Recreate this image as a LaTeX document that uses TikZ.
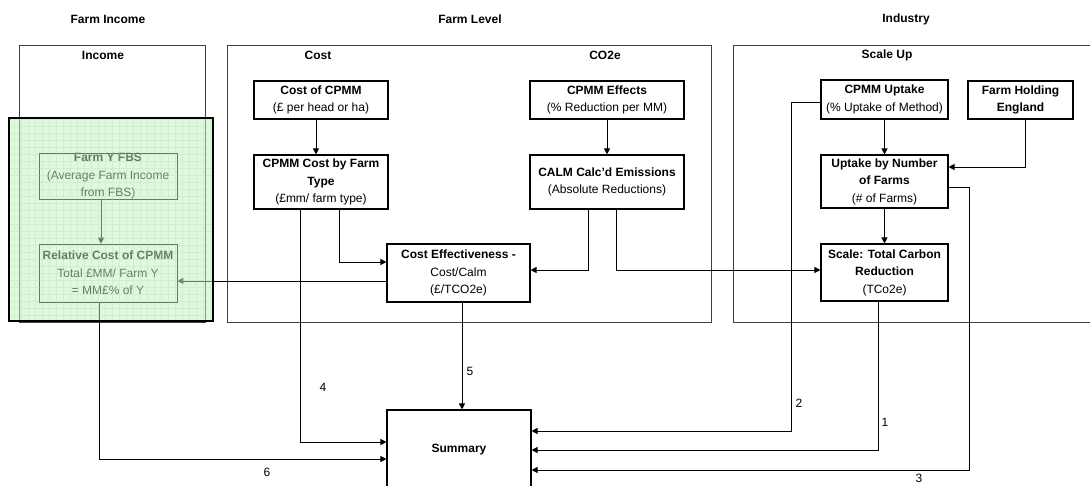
\documentclass[tikz,border=0pt]{standalone}
\usepackage{fontspec}
\setmainfont{Liberation Sans}
\usetikzlibrary{arrows.meta}
\newcommand{\fsz}{\fontsize{12}{17.5}\selectfont}
\begin{document}
\begin{tikzpicture}[x=1pt,y=-1pt,
  bx/.style={draw=black, line width=1.1pt, align=center, inner sep=0pt, font=\fsz},
  frm/.style={draw=black!75, line width=1pt, inner sep=0pt},
  ttl/.style={font=\bfseries\fsz, inner sep=0pt},
  lab/.style={font=\fsz, inner sep=0pt},
  arr/.style={line width=1pt, -{Triangle[length=6pt,width=6pt]}},
]
\useasboundingbox (0,0) rectangle (1090,485);
\clip (0,0) rectangle (1090,485);

% section titles
\node[ttl] (tinc) at (108,19) {Farm Income};
\node[ttl] (tlev) at (470,19) {Farm Level};
\node[ttl] (tind) at (906,19) {Industry};

% frames
\node[frm, minimum width=186pt, minimum height=277pt] (income) at (112,183.5) {};
\node[frm, minimum width=484pt, minimum height=277pt] (level) at (469,183.5) {};
\node[frm, minimum width=367pt, minimum height=277pt] (industry) at (916.5,183.5) {};
\node[ttl] (tincome) at (103,55) {Income};
\node[ttl] (tcost) at (318,55) {Cost};
\node[ttl] (tco2) at (605,55) {CO2e};
\node[ttl] (tscale) at (887,55) {Scale Up};

% boxes
\node[bx, line width=0.8pt, minimum width=138pt, minimum height=45pt] (fbs) at (108,176.5)
  {\textbf{Farm Y FBS}\\(Average Farm Income\\from FBS)};
\node[bx, line width=0.8pt, minimum width=138pt, minimum height=58pt] (rel) at (108,273)
  {\textbf{Relative Cost of CPMM}\\Total £MM/ Farm Y\\= MM£\% of Y};
\node[bx, minimum width=134pt, minimum height=38pt] (costcpmm) at (321,100)
  {\textbf{Cost of CPMM}\\(£ per head or ha)};
\node[bx, minimum width=134pt, minimum height=54pt] (cpmmcost) at (321,182)
  {\textbf{CPMM Cost by Farm}\\\textbf{Type}\\(£mm/ farm type)};
\node[bx, minimum width=154pt, minimum height=38pt] (effects) at (607,100)
  {\textbf{CPMM Effects}\\(\% Reduction per MM)};
\node[bx, minimum width=154pt, minimum height=54pt] (calm) at (607,182)
  {\textbf{CALM Calc'd Emissions}\\(Absolute Reductions)};
\node[bx, minimum width=143pt, minimum height=58pt] (costeff) at (458.5,273)
  {\textbf{Cost Effectiveness -}\\Cost/Calm\\(£/TCO2e)};
\node[bx, minimum width=127pt, minimum height=39pt] (uptake) at (884.5,99.5)
  {\textbf{CPMM Uptake}\\(\% Uptake of Method)};
\node[bx, minimum width=105pt, minimum height=38pt] (holding) at (1020.5,100)
  {\textbf{Farm Holding}\\\textbf{England}};
\node[bx, minimum width=127pt, minimum height=53pt] (uptakeN) at (884.5,181.5)
  {\textbf{Uptake by Number}\\\textbf{of Farms}\\(\# of Farms)};
\node[bx, minimum width=127pt, minimum height=57pt] (scale) at (884.5,272.5)
  {\textbf{Scale: Total Carbon}\\\textbf{Reduction}\\(TCo2e)};
\node[bx, minimum width=144pt, minimum height=80pt] (summary) at (459,450)
  {\textbf{Summary}};

% helper coordinates
\coordinate (k1) at (339,262);
\coordinate (k2) at (588,270);
\coordinate (k3) at (616,270);
\coordinate (k5) at (0,281);
\coordinate (k6) at (316,0);
\coordinate (k7) at (1025,167);
\coordinate (k8) at (101,0);
\coordinate (k9) at (300,442);
\coordinate (k10) at (462,0);
\coordinate (k11) at (99,459);
\coordinate (k12) at (791,102);
\coordinate (k13) at (791,431);
\coordinate (k14) at (878,450);
\coordinate (k15) at (969,187);
\coordinate (k16) at (969,470);

% connectors
\draw[arr] (costcpmm.south -| k6) -- (cpmmcost.north -| k6);
\draw[arr] (effects.south) -- (calm.north);
\draw[arr] (cpmmcost.south -| k1) |- (costeff.west |- k1);
\draw[arr] (calm.south -| k2) |- (costeff.east |- k2);
\draw[arr] (calm.south -| k3) |- (scale.west |- k3);
\draw[arr] (costeff.west |- k5) -- (rel.east |- k5);
\draw[arr] (uptake.south) -- (uptakeN.north);
\draw[arr] (uptakeN.south) -- (scale.north);
\draw[arr] (holding.south -| k7) |- (uptakeN.east |- k7);
\draw[arr] (fbs.south -| k8) -- (rel.north -| k8);
\draw[arr] (cpmmcost.south -| k9) |- (summary.west |- k9);
\draw[arr] (costeff.south -| k10) -- (summary.north -| k10);
\draw[arr] (rel.south -| k11) |- (summary.west |- k11);
\draw[arr] (uptake.west |- k12) -- (k12) -- (k13) -- (summary.east |- k13);
\draw[arr] (scale.south -| k14) |- (summary.east |- k14);
\draw[arr] (uptakeN.east |- k15) -- (k15) -- (k16) -- (summary.east |- k16);

% connector labels
\node[lab] (n1) at (885,422) {1};
\node[lab] (n2) at (799,403) {2};
\node[lab] (n3) at (919,478) {3};
\node[lab] (n4) at (323,387) {4};
\node[lab] (n5) at (470,371) {5};
\node[lab] (n6) at (267,472) {6};

% green highlight overlay
\fill[fill={rgb,255:red,194;green,240;blue,194}, fill opacity=0.5] (9,118) rectangle (213,321);
\draw[step=7pt, draw={rgb,255:red,160;green,220;blue,160}, draw opacity=0.3, line width=0.5pt] (10,119) grid (212,320);
\node[draw=black, line width=2pt, minimum width=204pt, minimum height=203pt, inner sep=0pt] (green) at (111,219.5) {};
\end{tikzpicture}
\end{document}
